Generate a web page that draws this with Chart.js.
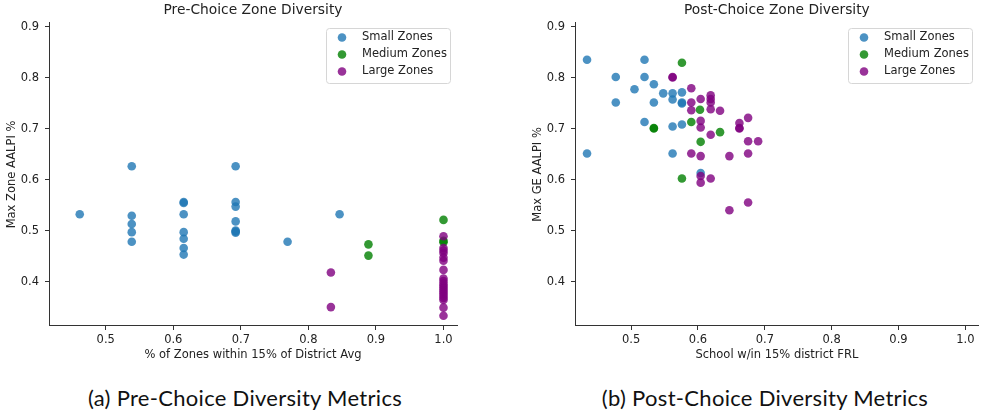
<!DOCTYPE html>
<html>
<head>
<meta charset="utf-8">
<script src="https://cdn.jsdelivr.net/npm/chart.js@4"></script>
<style>
    html, body {
        margin: 0;
        padding: 0;
        background: #fff;
    }

    #page {
        position: relative;
        width: 983px;
        height: 416px;
        overflow: hidden;
    }

    .panel {
        position: absolute;
        top: 0;
        height: 370px;
    }

    .caption {
        position: absolute;
        top: 384px;
        font-family: Lato, "DejaVu Sans", sans-serif;
        font-size: 22px;
        letter-spacing: 0.3px;
        color: #111;
        white-space: nowrap;
        transform: translateX(-50%);
    }
</style>
</head>
<body>
<div id="page">
    <div class="panel" style="left: 0; width: 491px;"><canvas id="preChart"></canvas></div>
    <div class="panel" style="left: 491px; width: 492px;"><canvas id="postChart"></canvas></div>
    <div class="caption" style="left: 245px;">(a) Pre-Choice Diversity Metrics</div>
    <div class="caption" style="left: 765px;">(b) Post-Choice Diversity Metrics</div>
</div>

<script>
// Pre-choice panel
const preSmallX = [0.4615, 0.5385, 0.5385, 0.5385, 0.5385, 0.5385,
    0.6154, 0.6154, 0.6154, 0.6154, 0.6154, 0.6154, 0.6154,
    0.6923, 0.6923, 0.6923, 0.6923, 0.6923, 0.6923, 0.6923,
    0.7692, 0.8462];
const preSmallY = [0.532, 0.626, 0.529, 0.513, 0.497, 0.478,
    0.556, 0.554, 0.532, 0.497, 0.484, 0.466, 0.453,
    0.626, 0.556, 0.547, 0.518, 0.500, 0.498, 0.496,
    0.478, 0.532];

const preMediumX = [0.8889, 0.8889, 1.0, 1.0, 1.0];
const preMediumY = [0.473, 0.451, 0.521, 0.480, 0.477];

const preLargeX = [0.8333, 0.8333, 1.0, 1.0, 1.0, 1.0, 1.0, 1.0, 1.0, 1.0, 1.0, 1.0,
    1.0, 1.0, 1.0, 1.0, 1.0, 1.0, 1.0, 1.0, 1.0, 1.0];
const preLargeY = [0.418, 0.350, 0.489, 0.466, 0.461, 0.456, 0.447, 0.441, 0.423, 0.406, 0.401, 0.396,
    0.392, 0.388, 0.384, 0.380, 0.376, 0.372, 0.368, 0.364, 0.349, 0.333];

// Post-choice panel
const postSmallX = [0.434, 0.520, 0.477, 0.520, 0.534, 0.505, 0.548, 0.562, 0.576, 0.477,
    0.534, 0.562, 0.576, 0.576, 0.520, 0.562, 0.576, 0.434, 0.562, 0.604];
const postSmallY = [0.835, 0.835, 0.801, 0.801, 0.787, 0.777, 0.769, 0.769, 0.771, 0.751,
    0.751, 0.757, 0.751, 0.749, 0.713, 0.704, 0.708, 0.651, 0.651, 0.613];

const postMediumX = [0.576, 0.603, 0.534, 0.534, 0.590, 0.633, 0.604, 0.576];
const postMediumY = [0.829, 0.737, 0.701, 0.700, 0.713, 0.693, 0.674, 0.602];

const postLargeX = [0.562, 0.562, 0.590, 0.604, 0.619, 0.619, 0.619, 0.590, 0.590, 0.619,
    0.633, 0.604, 0.604, 0.619, 0.662, 0.662, 0.662, 0.675, 0.675, 0.690,
    0.590, 0.604, 0.647, 0.675, 0.604, 0.604, 0.619, 0.647, 0.675];
const postLargeY = [0.801, 0.800, 0.779, 0.758, 0.765, 0.758, 0.751, 0.751, 0.736, 0.738,
    0.735, 0.715, 0.702, 0.688, 0.711, 0.701, 0.700, 0.721, 0.675, 0.675,
    0.651, 0.646, 0.646, 0.651, 0.607, 0.594, 0.602, 0.540, 0.555];

const seriesLabels = ["Small Zones", "Medium Zones", "Large Zones"];
const seriesColors = ["rgba(31, 119, 180, 0.8)", "rgba(0, 128, 0, 0.8)", "rgba(128, 0, 128, 0.8)"];

const xTicks = [0.5, 0.6, 0.7, 0.8, 0.9, 1.0];
const yTicks = [0.4, 0.5, 0.6, 0.7, 0.8, 0.9];

const textColor = "#222";
const axisColor = "#333";
const baseFont = "'DejaVu Sans', sans-serif";
const smallSize = 11.5;

function toPoints(xs, ys) {
    return xs.map((x, i) => ({ x, y: ys[i] }));
}

// legend drawn inside the plot area, upper right
const insideLegend = {
    id: "insideLegend",
    afterDraw(chart) {
        const { ctx, chartArea } = chart;
        const w = 124;
        const h = 55;
        const x = Math.round(chartArea.right - 7 - w);
        const y = Math.round(chartArea.top + 5);

        ctx.save();
        ctx.fillStyle = "rgba(255, 255, 255, 0.85)";
        ctx.strokeStyle = "#d6d6d6";
        ctx.lineWidth = 1;
        ctx.beginPath();
        ctx.roundRect(x + 0.5, y + 0.5, w, h, 3);
        ctx.fill();
        ctx.stroke();

        ctx.font = smallSize + "px " + baseFont;
        ctx.textBaseline = "middle";
        chart.data.datasets.forEach((ds, i) => {
            const cy = y + 9.5 + i * 17;
            ctx.fillStyle = ds.backgroundColor;
            ctx.beginPath();
            ctx.arc(x + 16, cy, 4.3, 0, Math.PI * 2);
            ctx.fill();
            ctx.fillStyle = textColor;
            ctx.fillText(ds.label, x + 36, cy);
        });
        ctx.restore();
    }
};

function makeChart(canvasId, title, xTitle, yTitle, series, padLeft, padRight) {
    return new Chart(document.getElementById(canvasId), {
        type: "scatter",
        data: {
            datasets: series.map((pts, i) => ({
                label: seriesLabels[i],
                data: pts,
                backgroundColor: seriesColors[i],
                borderWidth: 0,
                pointRadius: 4.3,
                pointHoverRadius: 4.3,
                order: 2 - i
            }))
        },
        options: {
            responsive: true,
            maintainAspectRatio: false,
            animation: false,
            layout: {
                padding: { left: padLeft, right: padRight, top: 0, bottom: 0 }
            },
            plugins: {
                legend: { display: false },
                tooltip: { enabled: false },
                title: {
                    display: true,
                    text: title,
                    fullSize: false,
                    color: textColor,
                    font: { family: baseFont, size: 13.8, weight: "normal" },
                    padding: { top: 2.5, bottom: 3.9 }
                }
            },
            scales: {
                x: {
                    type: "linear",
                    min: 0.416,
                    max: 1.02,
                    afterFit(scale) {
                        scale.height = 44;
                    },
                    afterBuildTicks(scale) {
                        scale.ticks = xTicks.map(v => ({ value: v }));
                    },
                    grid: {
                        drawOnChartArea: false,
                        drawTicks: true,
                        tickLength: 4,
                        color: axisColor
                    },
                    border: { display: true, color: axisColor, width: 1 },
                    ticks: {
                        color: textColor,
                        padding: 3,
                        maxRotation: 0,
                        font: { family: baseFont, size: smallSize },
                        callback(value) {
                            return Number(value).toFixed(1);
                        }
                    },
                    title: {
                        display: true,
                        text: xTitle,
                        color: textColor,
                        font: { family: baseFont, size: smallSize },
                        padding: { top: 0, bottom: 8.1 }
                    }
                },
                y: {
                    type: "linear",
                    min: 0.313,
                    max: 0.907,
                    afterFit(scale) {
                        scale.width = 49;
                    },
                    afterBuildTicks(scale) {
                        scale.ticks = yTicks.map(v => ({ value: v }));
                    },
                    grid: {
                        drawOnChartArea: false,
                        drawTicks: true,
                        tickLength: 4,
                        color: axisColor
                    },
                    border: { display: true, color: axisColor, width: 1 },
                    ticks: {
                        color: textColor,
                        padding: 6,
                        font: { family: baseFont, size: smallSize },
                        callback(value) {
                            return Number(value).toFixed(1);
                        }
                    },
                    title: {
                        display: true,
                        text: yTitle,
                        color: textColor,
                        font: { family: baseFont, size: smallSize },
                        padding: { top: 5.1, bottom: 0 }
                    }
                }
            }
        },
        plugins: [insideLegend]
    });
}

makeChart("preChart", "Pre-Choice Zone Diversity", "% of Zones within 15% of District Avg", "Max Zone AALPI %", [
    toPoints(preSmallX, preSmallY),
    toPoints(preMediumX, preMediumY),
    toPoints(preLargeX, preLargeY)
], 0, 34);

makeChart("postChart", "Post-Choice Zone Diversity", "School w/in 15% district FRL", "Max GE AALPI %", [
    toPoints(postSmallX, postSmallY),
    toPoints(postMediumX, postMediumY),
    toPoints(postLargeX, postLargeY)
], 35, 0);
</script>
</body>
</html>
